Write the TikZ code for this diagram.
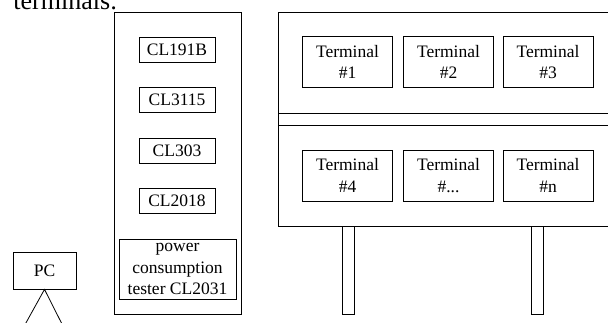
\documentclass[tikz,border=0pt]{standalone}
\usepackage{fontspec}
\setmainfont{Liberation Serif}
\usetikzlibrary{positioning}
\tikzset{every picture/.style={line width=0.8pt}}
\tikzset{
    box/.style={draw, inner sep=0pt, align=center, font=\fontsize{17.5}{21.5}\selectfont},
    term/.style={box, minimum width=90pt, minimum height=51pt},
    model/.style={box, minimum width=76pt, minimum height=25pt}
}
\newcommand{\moredots}{...}

\begin{document}
\begin{tikzpicture}[x=1pt, y=-1pt]
    % Page crop
    \clip (0,0) rectangle (608,322);
    \node[anchor=base west, inner sep=0pt, font=\fontsize{26}{30}\selectfont] (caption) at (13,9) {terminals:};

    % Test instruments
    \node[box, minimum width=127pt, minimum height=302pt] (rack) at (177.5,163) {};
    \node[model] (cl191b) at (177,49.5) {CL191B};
    \node[model] (cl3115) at (177,99.5) {CL3115};
    \node[model] (cl303) at (177,150.5) {CL303};
    \node[model] (cl2018) at (177,200.5) {CL2018};
    \node[box, minimum width=117pt, minimum height=60pt] (tester) at (177.5,269) {power\\consumption\\tester CL2031};

    % PC on stand
    \node[box, minimum width=63pt, minimum height=37pt] (pc) at (44.5,270.5) {PC};
    \coordinate (legl) at (22,330);
    \coordinate (legr) at (65,330);
    \draw (legl) -- (pc.south) -- (legr);

    % Terminal shelf
    \node[box, minimum width=342pt, minimum height=214pt] (shelf) at (449,119) {};
    \node[box, minimum width=342pt, minimum height=12pt] (board) at (449,119) {};
    \foreach \lbl/\x/\y [count=\i] in {1/347.5/62, 2/448.5/62, 3/548/62,
                                      4/347.5/175.5, \moredots/448.5/175.5, n/548/175.5} {
        \node[term] (t\i) at (\x,\y) {Terminal\\\#\lbl};
    }

    % Shelf legs
    \node[box, minimum width=12pt, minimum height=88pt, anchor=north] (legA) at (348,226) {};
    \node[box, minimum width=12pt, minimum height=88pt, anchor=north] (legB) at (537,226) {};
\end{tikzpicture}
\end{document}
